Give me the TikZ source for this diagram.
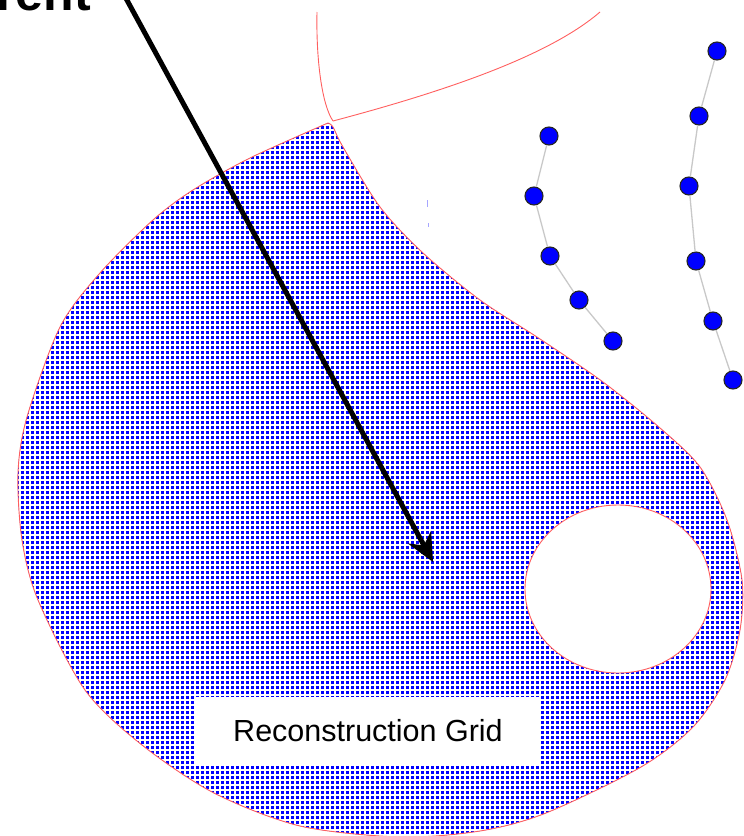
\documentclass[tikz,border=0pt]{standalone}
\usepackage{fontspec}
\setmainfont{Liberation Sans}
\usetikzlibrary{arrows.meta}
\definecolor{rimred}{RGB}{255,95,95}
\definecolor{linkgray}{RGB}{200,200,200}
\tikzset{
	bead/.style={circle, fill=blue, draw=black!85, line width=1.1pt, minimum size=18pt, inner sep=0pt},
	link/.style={linkgray, line width=1.3pt},
	rim/.style={rimred, line width=0.9pt}
}
\newcommand{\gridblob}{plot[smooth, tension=.5] coordinates {(328,123) (250,158) (193,190) (153,220) (100,273) (60,327) (27,417) (18,473) (22,540) (38,600) (85,690) (142,745) (214,793) (300,826) (400,837) (480,831) (546,813) (641,767) (693,727) (725,680) (740,630) (742,580) (727,520) (700,467) (660,428) (603,382) (540,339) (480,300) (423,253) (380,207) (343,147) (333,127) (328,123)}}
\begin{document}
\begin{tikzpicture}[x=1pt, y=-1pt]
	\useasboundingbox (0,0) rectangle (744,836);
	\clip (0,0) rectangle (744,836);
	
	% reconstruction grid
	\fill[blue] \gridblob;
	\begin{scope}
		\clip \gridblob;
		\draw[white, line width=1.7pt, xstep=5pt, ystep=5pt] (0,0) grid (744,836);
	\end{scope}
	\draw[rim] \gridblob;
	\fill[white] (618,589) ellipse [x radius=93, y radius=84];
	\draw[rim] (618,589) ellipse [x radius=93, y radius=84];
	
	\draw[rim] (317,12) .. controls (316,60) and (322,105) .. (333,121);
	\draw[rim] (333,121) .. controls (450,90) and (550,55) .. (600,12);
	\draw[blue!35, line width=1pt] (427,200) -- (427,207) (428,223) -- (428,227);
	
	\node[fill=white, minimum width=346pt, minimum height=68pt, inner sep=0pt, font=\fontsize{30.5}{36}\selectfont] (grid) at (368,731) {Reconstruction Grid};
	
	% tracks
	\node[bead] (a1) at (549,136) {};
	\node[bead] (a2) at (534,196) {};
	\node[bead] (a3) at (550,256) {};
	\node[bead] (a4) at (579,300) {};
	\node[bead] (a5) at (613,341) {};
	\node[bead] (b1) at (717,51) {};
	\node[bead] (b2) at (699,116) {};
	\node[bead] (b3) at (689,186) {};
	\node[bead] (b4) at (696,261) {};
	\node[bead] (b5) at (713,321) {};
	\node[bead] (b6) at (733,380) {};
	\draw[link] (a1) -- (a2) -- (a3) -- (a4) -- (a5);
	\draw[link] (b1) -- (b2) -- (b3) -- (b4) -- (b5) -- (b6);
	
	\node[anchor=base east, inner sep=0pt, font=\fontsize{50}{60}\selectfont\bfseries] (word) at (91,10) {rent};
	\coordinate (tail) at (122,-9);
	\coordinate (tip) at (433,562);
	\draw[line width=5pt, -{Stealth[length=28pt, width=26pt]}] (tail) -- (tip);
\end{tikzpicture}
\end{document}
